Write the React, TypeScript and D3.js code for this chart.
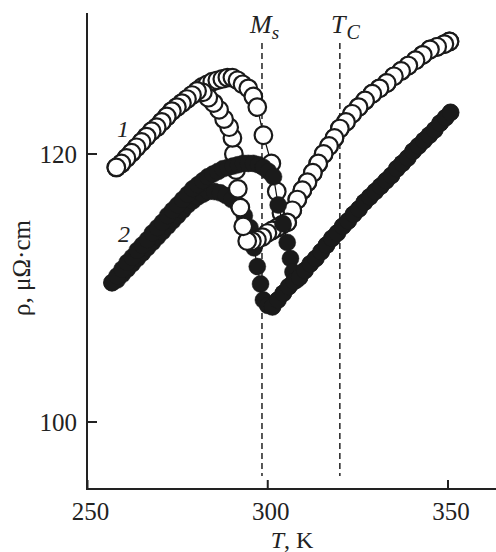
import React from "react";
import * as d3 from "d3";

// Curve 1 (open circles), heating branch: [T (K), rho (μΩ·cm)]
const curve1Heating: [number, number][] = [
  [258.0, 119.0], [259.4, 119.3], [260.8, 119.7], [262.2, 120.1], [263.6, 120.5],
  [265.0, 120.9], [266.4, 121.3], [267.8, 121.7], [269.2, 122.0], [270.6, 122.4],
  [272.0, 122.8], [273.4, 123.2], [274.8, 123.5], [276.2, 123.8], [277.6, 124.1],
  [279.0, 124.4], [280.4, 124.7], [281.8, 125.0], [283.2, 125.2], [284.6, 125.4],
  [286.0, 125.5], [287.4, 125.6], [288.8, 125.7], [290.2, 125.7], [291.6, 125.5],
  [293.0, 125.2], [294.6, 124.9], [296.0, 124.3], [297.1, 123.5], [298.8, 121.4],
  [301.0, 119.3], [302.5, 117.2], [303.8, 115.6],
  [305.4, 114.9], [306.8, 115.8], [308.2, 116.6], [309.6, 117.3], [311.0, 117.9],
  [312.5, 118.6], [314.0, 119.3], [315.5, 120.0], [317.0, 120.6], [318.5, 121.2],
  [320.0, 121.9], [321.7, 122.4], [323.4, 123.0], [325.2, 123.5], [327.0, 124.0],
  [329.0, 124.5], [331.0, 124.9], [333.0, 125.3], [335.0, 125.8], [337.0, 126.2],
  [339.0, 126.6], [341.0, 127.0], [343.0, 127.4], [345.0, 127.8], [347.0, 128.0],
  [349.0, 128.2], [350.4, 128.4],
];

// Curve 1 (open circles), cooling branch
const curve1Cooling: [number, number][] = [
  [305.4, 114.9], [303.9, 114.7], [302.6, 114.5], [301.2, 114.3], [299.9, 114.1],
  [298.5, 113.8], [297.0, 113.6], [295.6, 113.5], [294.3, 113.5], [293.2, 114.6],
  [292.4, 116.0], [291.7, 117.4], [291.2, 118.8], [290.6, 120.0], [290.2, 121.2],
  [289.3, 122.0], [287.9, 122.6], [286.5, 123.3], [285.0, 123.8], [283.5, 124.2],
  [282.0, 124.6], [280.4, 124.7],
];

// Curve 2 (filled circles), heating branch (upper)
const curve2Heating: [number, number][] = [
  [256.8, 110.4], [258.2, 110.9], [259.6, 111.4], [261.0, 111.9], [262.4, 112.3],
  [263.8, 112.8], [265.2, 113.2], [266.6, 113.6], [268.0, 114.1], [269.4, 114.5],
  [270.8, 114.9], [272.2, 115.4], [273.6, 115.8], [275.0, 116.2], [276.4, 116.6],
  [277.8, 117.0], [279.2, 117.4], [280.6, 117.7], [282.0, 118.0], [283.4, 118.3],
  [284.8, 118.5], [286.2, 118.7], [287.6, 118.9], [289.0, 119.0], [290.4, 119.1],
  [291.8, 119.2], [293.2, 119.3], [294.6, 119.3], [296.0, 119.3], [297.4, 119.2],
  [298.8, 119.0], [300.2, 118.7], [301.6, 118.3], [302.9, 116.2], [304.2, 114.8],
  [305.4, 113.4], [306.3, 112.2], [307.0, 111.2], [308.0, 110.6],
];

// Curve 2, cooling branch (lower)
const curve2Cooling: [number, number][] = [
  [256.8, 110.4], [258.2, 110.6], [259.6, 111.0], [261.0, 111.4], [262.4, 111.8],
  [263.8, 112.2], [265.2, 112.6], [266.6, 113.0], [268.0, 113.4], [269.4, 113.8],
  [270.8, 114.2], [272.2, 114.6], [273.6, 115.0], [275.0, 115.4], [276.4, 115.8],
  [277.8, 116.2], [279.2, 116.5], [280.6, 116.8], [282.0, 117.0], [283.6, 117.2],
  [285.2, 117.2], [286.8, 117.1], [288.4, 116.9], [290.0, 116.6], [291.8, 116.2],
  [293.5, 115.4], [295.1, 114.5], [296.2, 113.0], [297.1, 111.6], [298.0, 110.3],
  [298.8, 109.1], [300.0, 108.7],
];

// Curve 2, common high-temperature part
const curve2High: [number, number][] = [
  [301.3, 108.6], [302.8, 109.1], [304.3, 109.6], [305.8, 110.1], [307.3, 110.5],
  [308.8, 110.8], [310.3, 111.3], [311.8, 111.8], [313.3, 112.2], [314.8, 112.7],
  [316.3, 113.2], [317.8, 113.7], [319.3, 114.1], [320.8, 114.6], [322.3, 115.0],
  [323.8, 115.5], [325.3, 115.9], [326.8, 116.4], [328.3, 116.8], [329.8, 117.2],
  [331.3, 117.6], [332.8, 118.0], [334.3, 118.4], [335.8, 118.9], [337.3, 119.3],
  [338.8, 119.7], [340.3, 120.2], [341.8, 120.6], [343.3, 121.0], [344.8, 121.4],
  [346.3, 121.8], [347.8, 122.3], [349.3, 122.7], [350.7, 123.1],
];

const xTicks = [250, 300, 350];
const yTicks = [100, 120];
const msT = 298.4;
const tcT = 320;

const FONT = "'Liberation Serif', 'Times New Roman', Times, serif";

export default function App() {
  const x = d3.scaleLinear().domain([250, 350]).range([87.5, 448]);
  const y = d3.scaleLinear().domain([100, 120]).range([422, 154]);
  const axisX0 = 87;
  const axisY0 = 489;
  const axisTop = 13;
  const axisRight = 496;

  const line = d3
    .line<[number, number]>()
    .x((d) => x(d[0]))
    .y((d) => y(d[1]));

  const c2Heat = [...curve2Heating, ...curve2High];
  const c2Cool = [...curve2Cooling, ...curve2High];
  const c1Cool = [
    ...curve1Heating.filter((d) => d[0] >= 305.4).reverse(),
    ...curve1Cooling.slice(1),
    ...curve1Heating.filter((d) => d[0] < 280.4).reverse(),
  ];

  const series = (data: [number, number][], filled: boolean, key: string) => (
    <g key={key}>
      <path d={line(data) || ""} fill="none" stroke="#111" strokeWidth={1.2} />
      {data.map((d, i) => (
        <circle
          key={i}
          cx={x(d[0])}
          cy={y(d[1])}
          r={filled ? 8.5 : 8.8}
          fill={filled ? "#1a1a1a" : "#fff"}
          stroke="#1a1a1a"
          strokeWidth={filled ? 0.5 : 2.2}
        />
      ))}
    </g>
  );

  const txt = { fontFamily: FONT, fill: "#222" } as React.CSSProperties;

  return (
    <svg
      width={496}
      height={552}
      style={{ position: "absolute", left: 0, top: 0, background: "#fff", fontFamily: FONT }}
    >
      <rect width={496} height={552} fill="#fff" />
      {[msT, tcT].map((t) => (
        <line
          key={t}
          x1={x(t)}
          x2={x(t)}
          y1={43}
          y2={476}
          stroke="#222"
          strokeWidth={1.5}
          strokeDasharray="6,4"
        />
      ))}
      {series(c2Cool, true, "c2c")}
      {series(curve1Heating, false, "c1h")}
      {series(c1Cool, false, "c1c")}
      {series(c2Heat, true, "c2h")}
      <line x1={axisX0} x2={axisX0} y1={axisTop} y2={axisY0 + 1} stroke="#222" strokeWidth={2} />
      <line x1={axisX0 - 1} x2={axisRight} y1={axisY0} y2={axisY0} stroke="#222" strokeWidth={2} />
      {xTicks.map((t) => (
        <g key={t}>
          <line x1={x(t)} x2={x(t)} y1={axisY0} y2={axisY0 - 9} stroke="#222" strokeWidth={2} />
          <text x={x(t) + 3} y={520} fontSize={25} textAnchor="middle" style={txt}>
            {t}
          </text>
        </g>
      ))}
      {yTicks.map((t) => (
        <g key={t}>
          <line x1={axisX0} x2={axisX0 + 10} y1={y(t)} y2={y(t)} stroke="#222" strokeWidth={2} />
          <text x={77} y={y(t) + 9} fontSize={25} textAnchor="end" style={txt}>
            {t}
          </text>
        </g>
      ))}
      <text x={292} y={548} fontSize={24} textAnchor="middle" style={txt}>
        <tspan fontStyle="italic">T</tspan>, K
      </text>
      <text transform={`translate(30,268) rotate(-90)`} fontSize={25} textAnchor="middle" style={txt}>
        ρ, μΩ·cm
      </text>
      <text x={117} y={137} fontSize={24} fontStyle="italic" style={txt}>1</text>
      <text x={118} y={242} fontSize={24} fontStyle="italic" style={txt}>2</text>
      <text x={250} y={33} fontSize={26} fontStyle="italic" style={txt}>
        M<tspan fontSize={19} dy={6}>s</tspan>
      </text>
      <text x={331} y={33} fontSize={26} fontStyle="italic" style={txt}>
        T<tspan fontSize={20} dy={6} dx={1}>C</tspan>
      </text>
    </svg>
  );
}
